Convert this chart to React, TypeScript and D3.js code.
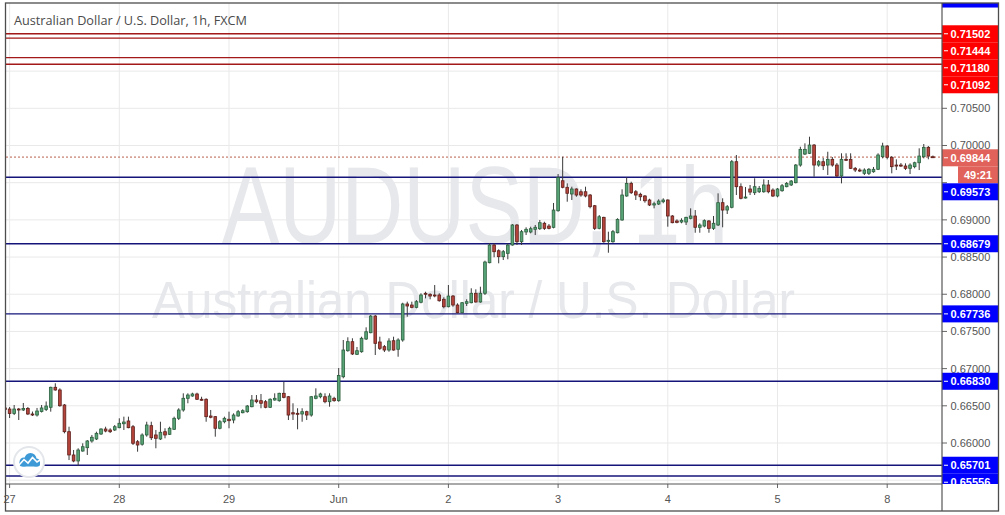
import React from "react";
import * as d3 from "d3";

type Candle = [number, number, number, number]; // open, high, low, close

const may26Tail: Candle[] = [[0.66471, 0.66497, 0.6643, 0.6645]];

const may27: Candle[] = [
  [0.66457, 0.66484, 0.66336, 0.66397], [0.66397, 0.66511, 0.66376, 0.66457],
  [0.66457, 0.66471, 0.66309, 0.6645], [0.66444, 0.66538, 0.6643, 0.66464],
  [0.66464, 0.66484, 0.66376, 0.6639], [0.6639, 0.66423, 0.66363, 0.66386],
  [0.66376, 0.66471, 0.66356, 0.6643], [0.66423, 0.66511, 0.6641, 0.66471],
  [0.6645, 0.66558, 0.6643, 0.66497], [0.6648, 0.66757, 0.66421, 0.66749],
  [0.66749, 0.66803, 0.66703, 0.66713], [0.66713, 0.66735, 0.66488, 0.66501],
  [0.66511, 0.66524, 0.6613, 0.66152], [0.66152, 0.66219, 0.65771, 0.65839],
  [0.65839, 0.65906, 0.65741, 0.65758], [0.65758, 0.65929, 0.6569, 0.65906],
  [0.65892, 0.65996, 0.65883, 0.6595], [0.65937, 0.6604, 0.65839, 0.66027],
  [0.66027, 0.66108, 0.66004, 0.66077], [0.66054, 0.66152, 0.6604, 0.6613],
  [0.66121, 0.66198, 0.66108, 0.66188], [0.66188, 0.66219, 0.66144, 0.66161],
  [0.66175, 0.66198, 0.66134, 0.66152], [0.66175, 0.66242, 0.66161, 0.66219],
];

const may28: Candle[] = [
  [0.66206, 0.66332, 0.66198, 0.66265], [0.66259, 0.66354, 0.66175, 0.66282],
  [0.66296, 0.66354, 0.66198, 0.66206], [0.66219, 0.66242, 0.65973, 0.65996],
  [0.66017, 0.6604, 0.65883, 0.65973], [0.65983, 0.6613, 0.65964, 0.66108],
  [0.66108, 0.66286, 0.66085, 0.66242], [0.66233, 0.66286, 0.6604, 0.66071],
  [0.66108, 0.66175, 0.65929, 0.66063], [0.66054, 0.66286, 0.6604, 0.66144],
  [0.66152, 0.66198, 0.66063, 0.66108], [0.66117, 0.66219, 0.66108, 0.66198],
  [0.66184, 0.66354, 0.66175, 0.66332], [0.66332, 0.66467, 0.66309, 0.66444],
  [0.66444, 0.66668, 0.66421, 0.66601], [0.66601, 0.66668, 0.66534, 0.66645],
  [0.66632, 0.66676, 0.66622, 0.66659], [0.66659, 0.66676, 0.66578, 0.66588],
  [0.66588, 0.66622, 0.66569, 0.66585], [0.66588, 0.66601, 0.66286, 0.66354],
  [0.66363, 0.66444, 0.66332, 0.66346], [0.66354, 0.66363, 0.66085, 0.66198],
  [0.66198, 0.66309, 0.66184, 0.66286], [0.66286, 0.66354, 0.66265, 0.66332],
];

const may29: Candle[] = [
  [0.66319, 0.66421, 0.66198, 0.663], [0.66309, 0.66399, 0.66265, 0.66376],
  [0.66363, 0.66444, 0.66354, 0.66421], [0.66407, 0.66453, 0.66399, 0.66434],
  [0.66421, 0.66511, 0.66407, 0.66497], [0.66488, 0.66645, 0.6648, 0.66578],
  [0.66578, 0.66645, 0.66534, 0.66555], [0.66569, 0.66659, 0.66467, 0.66534],
  [0.66555, 0.66578, 0.66467, 0.6648], [0.6648, 0.66601, 0.66471, 0.66588],
  [0.66578, 0.66668, 0.66569, 0.66601], [0.66569, 0.66676, 0.66555, 0.66668],
  [0.66668, 0.66824, 0.66601, 0.66614], [0.66622, 0.66632, 0.66309, 0.66376],
  [0.66407, 0.66534, 0.66309, 0.6639], [0.66399, 0.66467, 0.66184, 0.66397],
  [0.6639, 0.66467, 0.66286, 0.66421], [0.66421, 0.66434, 0.66309, 0.66376],
  [0.66376, 0.66632, 0.66354, 0.66622], [0.66601, 0.66735, 0.66588, 0.66632],
  [0.66622, 0.66676, 0.66601, 0.66659], [0.66622, 0.66668, 0.66534, 0.66555],
  [0.66555, 0.66668, 0.66488, 0.66632], [0.66601, 0.66622, 0.66555, 0.66569],
];

const jun1: Candle[] = [
  [0.66569, 0.67008, 0.66555, 0.66907], [0.66891, 0.67385, 0.6687, 0.6725],
  [0.67241, 0.67421, 0.67227, 0.67362], [0.67362, 0.67408, 0.67183, 0.67197],
  [0.67192, 0.67291, 0.67183, 0.67241], [0.67227, 0.67429, 0.67214, 0.67408],
  [0.67398, 0.67555, 0.67385, 0.67496], [0.67483, 0.67721, 0.67475, 0.67707],
  [0.67707, 0.67721, 0.67183, 0.6734], [0.67358, 0.67429, 0.6725, 0.67273],
  [0.67295, 0.67318, 0.67223, 0.6725], [0.6725, 0.67408, 0.67227, 0.67371],
  [0.67375, 0.67429, 0.67241, 0.6725], [0.6726, 0.67408, 0.6716, 0.67385],
  [0.67385, 0.67886, 0.67362, 0.67869], [0.67869, 0.679, 0.67698, 0.67842],
  [0.67855, 0.679, 0.67811, 0.67824], [0.67824, 0.67922, 0.67811, 0.679],
  [0.67892, 0.68013, 0.67878, 0.6799], [0.68013, 0.68034, 0.67945, 0.68007],
  [0.67999, 0.68013, 0.67932, 0.67976], [0.6799, 0.68124, 0.67959, 0.67986],
  [0.6799, 0.68013, 0.679, 0.67913], [0.67932, 0.67959, 0.67811, 0.67832],
];

const jun2: Candle[] = [
  [0.67832, 0.68124, 0.67824, 0.67976], [0.67976, 0.6799, 0.67832, 0.67855],
  [0.67855, 0.67878, 0.67744, 0.67752], [0.67752, 0.67896, 0.67744, 0.67886],
  [0.67878, 0.67932, 0.67842, 0.679], [0.67886, 0.6808, 0.67878, 0.68013],
  [0.68013, 0.68066, 0.67886, 0.67896], [0.67896, 0.68101, 0.67886, 0.68013],
  [0.68013, 0.68451, 0.6799, 0.68433], [0.68424, 0.68685, 0.68416, 0.68662],
  [0.68662, 0.68685, 0.68497, 0.68572], [0.68585, 0.68604, 0.68416, 0.68505],
  [0.68505, 0.68595, 0.6846, 0.68572], [0.6855, 0.68682, 0.6847, 0.68662],
  [0.68662, 0.68944, 0.68653, 0.68931], [0.68931, 0.68944, 0.68662, 0.68706],
  [0.68706, 0.68864, 0.68662, 0.68841], [0.68837, 0.689, 0.68796, 0.68873],
  [0.68837, 0.68908, 0.68819, 0.68881], [0.68873, 0.68931, 0.68796, 0.689],
  [0.68881, 0.68998, 0.68864, 0.68962], [0.68954, 0.68975, 0.68864, 0.68886],
  [0.68917, 0.68944, 0.68873, 0.68886], [0.689, 0.69227, 0.68886, 0.69132],
];

const jun3: Candle[] = [
  [0.69123, 0.69616, 0.6911, 0.69569], [0.69526, 0.69849, 0.69424, 0.69438],
  [0.69438, 0.69491, 0.69244, 0.69357], [0.69348, 0.69446, 0.69267, 0.69415],
  [0.69415, 0.69424, 0.69311, 0.69334], [0.69378, 0.69411, 0.69311, 0.69334],
  [0.69378, 0.69446, 0.69303, 0.69321], [0.69334, 0.69348, 0.69155, 0.69177],
  [0.6919, 0.692, 0.68864, 0.68886], [0.68886, 0.69065, 0.68873, 0.69042],
  [0.69034, 0.69042, 0.68693, 0.68706], [0.6872, 0.68841, 0.68558, 0.68725],
  [0.68706, 0.68864, 0.68693, 0.68841], [0.68827, 0.69021, 0.68819, 0.69007],
  [0.68998, 0.69411, 0.68989, 0.69334], [0.69321, 0.69572, 0.69311, 0.69491],
  [0.69491, 0.69513, 0.69348, 0.69365], [0.69378, 0.69401, 0.69267, 0.69334],
  [0.69344, 0.69365, 0.69257, 0.69311], [0.69321, 0.69334, 0.69231, 0.69257],
  [0.69267, 0.69284, 0.69186, 0.692], [0.692, 0.69244, 0.69155, 0.69217],
  [0.69213, 0.69276, 0.692, 0.69253], [0.69244, 0.6929, 0.69223, 0.69267],
];

const jun4: Candle[] = [
  [0.69267, 0.69276, 0.68908, 0.69052], [0.69052, 0.69065, 0.68954, 0.68962],
  [0.68985, 0.69007, 0.68954, 0.68967], [0.68971, 0.69021, 0.68954, 0.68994],
  [0.68971, 0.69042, 0.68931, 0.69034], [0.69021, 0.69155, 0.69007, 0.69052],
  [0.69052, 0.69132, 0.68827, 0.689], [0.689, 0.68954, 0.68827, 0.68931],
  [0.68917, 0.69007, 0.689, 0.68989], [0.68985, 0.68998, 0.68827, 0.68886],
  [0.68886, 0.69052, 0.68864, 0.68954], [0.68931, 0.69357, 0.68917, 0.69231],
  [0.69231, 0.6929, 0.689, 0.69132], [0.69132, 0.692, 0.69079, 0.69177],
  [0.69169, 0.69805, 0.69155, 0.69782], [0.69782, 0.69872, 0.69334, 0.69446],
  [0.69446, 0.69491, 0.69276, 0.6929], [0.69301, 0.69442, 0.69287, 0.69307],
  [0.69415, 0.69469, 0.69334, 0.69374], [0.69365, 0.69559, 0.69334, 0.69446],
  [0.69378, 0.69455, 0.69361, 0.69424], [0.69378, 0.69545, 0.69365, 0.69469],
  [0.69469, 0.69536, 0.69357, 0.69378], [0.69401, 0.69424, 0.69307, 0.69321],
];

const jun5: Candle[] = [
  [0.69321, 0.69428, 0.69303, 0.69415], [0.69392, 0.69482, 0.69378, 0.69459],
  [0.69446, 0.69509, 0.69438, 0.69491], [0.69469, 0.69536, 0.69455, 0.69522],
  [0.695, 0.69751, 0.69491, 0.69737], [0.69737, 0.69983, 0.69715, 0.69948],
  [0.69885, 0.70029, 0.69872, 0.69948], [0.69895, 0.70118, 0.69885, 0.70006],
  [0.70006, 0.7002, 0.6958, 0.69737], [0.69737, 0.69805, 0.69715, 0.69782],
  [0.69782, 0.69832, 0.6967, 0.69728], [0.69737, 0.69916, 0.69603, 0.69814],
  [0.69814, 0.69845, 0.69715, 0.69737], [0.69737, 0.69764, 0.69576, 0.6959],
  [0.6959, 0.69895, 0.69491, 0.69814], [0.69814, 0.69895, 0.69791, 0.69809],
  [0.69814, 0.69895, 0.69684, 0.69693], [0.69693, 0.69711, 0.69643, 0.6967],
  [0.6967, 0.69693, 0.69643, 0.69667], [0.69626, 0.69693, 0.69603, 0.6967],
  [0.69626, 0.69697, 0.69603, 0.6968], [0.69647, 0.69711, 0.69634, 0.6968],
  [0.6968, 0.69895, 0.6967, 0.69872], [0.69849, 0.70037, 0.69827, 0.69993],
];

const jun8: Candle[] = [
  [0.69993, 0.70006, 0.69814, 0.69841], [0.69841, 0.69858, 0.69626, 0.69715],
  [0.69737, 0.69814, 0.6967, 0.69733], [0.69737, 0.69764, 0.69711, 0.69728],
  [0.69724, 0.6976, 0.6967, 0.69693], [0.69693, 0.6976, 0.69616, 0.69737],
  [0.69715, 0.69782, 0.69693, 0.69768], [0.69768, 0.69962, 0.6967, 0.69858],
  [0.69849, 0.7002, 0.69827, 0.69975], [0.69975, 0.69993, 0.69814, 0.69858],
  [0.69849, 0.69865, 0.69832, 0.69844],
];

const tradingDays = [may27, may28, may29, jun1, jun2, jun3, jun4, jun5, jun8];
const dayLabels = ["27", "28", "29", "Jun", "2", "3", "4", "5", "8"];
const resistanceLevels = [0.71502, 0.71444, 0.7118, 0.71092];
const supportLevels = [0.69573, 0.68679, 0.67736, 0.6683, 0.65701, 0.65556];
const offscreenLevel = 0.71969;
const lastPrice = 0.69844;
const countdown = "49:21";
const priceTicks = d3.range(0, 13).map((k) => 0.655 + k * 0.005);
const title = "Australian Dollar / U.S. Dollar, 1h, FXCM";
const watermarkSymbol = "AUDUSD, 1h";
const watermarkName = "Australian Dollar / U.S. Dollar";

const W = 1005;
const H = 515;
const L = 6;
const R = 942;
const T = 3;
const B = 484;
const AX = 998;
const BARS_PER_DAY = 24;

const x = d3.scaleLinear().domain([0, BARS_PER_DAY * 8]).range([9.6, 887.2]);
const y = d3.scaleLinear().domain([0.66, 0.705]).range([443, 108.3]);
const fmt = d3.format(".5f");

const UP_FILL = "#58a477";
const UP_STROKE = "#2b5e3d";
const DN_FILL = "#b5443c";
const DN_STROKE = "#5e1f1a";
const WICK = "#3a3a3a";
const RED = "#ff0000";
const BLUE = "#0000ff";
const LAST = "#e0625a";
const LABEL_H = 17;

function stack(levels: number[], startAfter: number | null) {
  const sorted = [...levels].sort((a, b) => b - a);
  let prev = startAfter;
  return sorted.map((p) => {
    let c = y(p);
    if (prev !== null && c < prev + LABEL_H) c = prev + LABEL_H;
    prev = c;
    return { p, c };
  });
}

export default function App() {
  const candles: { i: number; d: Candle }[] = [];
  may26Tail.forEach((d, k) => candles.push({ i: k - may26Tail.length, d }));
  tradingDays.forEach((day, di) =>
    day.forEach((d, k) => candles.push({ i: di * BARS_PER_DAY + k, d }))
  );

  const redLabels = stack(resistanceLevels, null);
  const lastC = y(lastPrice) + 0.7;
  const cdC = lastC + LABEL_H;
  const blueLabels = stack(supportLevels, cdC);
  const bodyW = 2.7;

  // tick labels hidden behind a coloured level label are not drawn
  const boxCenters = [
    y(offscreenLevel), lastC, cdC,
    ...redLabels.map((d) => d.c), ...blueLabels.map((d) => d.c),
  ];
  const visibleTicks = priceTicks.filter(
    (p) => boxCenters.every((c) => Math.abs(y(p) - c) > LABEL_H / 2 + 3)
  );

  return (
    <div style={{ position: "fixed", left: 0, top: 0 }}>
      <svg width={W} height={H} style={{ display: "block", background: "#fff" }}>
        <defs>
          <clipPath id="plot">
            <rect x={L} y={T} width={R - L} height={B - T} />
          </clipPath>
          <clipPath id="axis">
            <rect x={R} y={T} width={AX - R} height={B - T} />
          </clipPath>
        </defs>
        <rect x={0} y={0} width={W} height={H} fill="#fff" />

        <g clipPath="url(#plot)">
          {priceTicks.map((p) => (
            <line key={p} x1={L} x2={R} y1={y(p)} y2={y(p)} stroke="#e9e9e9" strokeWidth={1} />
          ))}
          {dayLabels.map((lab, di) => (
            <line key={lab} x1={x(di * BARS_PER_DAY)} x2={x(di * BARS_PER_DAY)} y1={T} y2={B} stroke="#e9e9e9" strokeWidth={1} />
          ))}
          <text x={222} y={243} fontFamily="Liberation Sans, Arial, sans-serif" fontSize={110}
            fill="#e7e8ec" textLength={506} lengthAdjust="spacingAndGlyphs">{watermarkSymbol}</text>
          <text x={152} y={318} fontFamily="Liberation Sans, Arial, sans-serif" fontSize={52}
            fill="#e7e8ec" textLength={643} lengthAdjust="spacingAndGlyphs">{watermarkName}</text>

          {resistanceLevels.map((p) => (
            <line key={p} x1={L} x2={R} y1={y(p)} y2={y(p)} stroke="#a31818" strokeWidth={1.3} />
          ))}
          {supportLevels.map((p) => (
            <line key={p} x1={L} x2={R} y1={y(p)} y2={y(p)} stroke="#14147a" strokeWidth={1.3} />
          ))}
          <line x1={L} x2={R} y1={y(lastPrice)} y2={y(lastPrice)} stroke="#b8604f" strokeWidth={1} strokeDasharray="2,2" />

          {candles.map(({ i, d }) => {
            const [o, h, l, c] = d;
            const up = c >= o;
            const cx = x(i);
            const top = y(Math.max(o, c));
            const bh = Math.max(1, y(Math.min(o, c)) - top);
            return (
              <g key={i}>
                <line x1={cx} x2={cx} y1={y(h)} y2={y(l)} stroke={WICK} strokeWidth={1} />
                <rect x={cx - bodyW / 2} y={top} width={bodyW} height={bh}
                  fill={up ? UP_FILL : DN_FILL} stroke={up ? UP_STROKE : DN_STROKE} strokeWidth={0.8} />
              </g>
            );
          })}

          <g>
            <circle cx={29} cy={462} r={15} fill="#fff" stroke="#e3e6ea" strokeWidth={2} />
            <g fill="#3d9ad6">
              <circle cx={24} cy={462} r={4.5} />
              <circle cx={30.5} cy={459} r={6} />
              <circle cx={36} cy={462.5} r={4} />
              <rect x={19.5} y={461} width={20.5} height={5.5} rx={2.5} />
            </g>
            <polyline points="19,465 24,459.5 28,463 32.5,457.5 37,462 40,460" fill="none" stroke="#fff" strokeWidth={1.6} />
          </g>
        </g>

        <text x={14} y={25} fontFamily="Open Sans, sans-serif" fontSize={12.7} fill="#4b4b4b">{title}</text>

        <g clipPath="url(#axis)" fontFamily="Liberation Sans, Arial, sans-serif" fontSize={11}>
          {priceTicks.map((p) => (
            <line key={p} x1={R} x2={R + 5} y1={y(p)} y2={y(p)} stroke="#666" strokeWidth={1} />
          ))}
          {visibleTicks.map((p) => (
            <text key={p} x={950.5} y={y(p) + 4} fill="#555">{fmt(p)}</text>
          ))}
          <rect x={R} y={y(offscreenLevel) - LABEL_H / 2} width={AX - R} height={LABEL_H} fill={BLUE} />
          {redLabels.map(({ p, c }) => (
            <g key={p}>
              <rect x={R} y={c - LABEL_H / 2} width={AX - R} height={LABEL_H} fill={RED} />
              <line x1={R + 2} x2={R + 6} y1={c} y2={c} stroke="#fff" strokeWidth={1} />
              <text x={950.5} y={c + 4} fill="#fff" fontWeight="bold">{fmt(p)}</text>
            </g>
          ))}
          <rect x={R} y={lastC - LABEL_H / 2} width={AX - R} height={LABEL_H} fill={LAST} />
          <line x1={R + 2} x2={R + 6} y1={lastC} y2={lastC} stroke="#fff" strokeWidth={1} />
          <text x={950.5} y={lastC + 4} fill="#fff" fontWeight="bold">{fmt(lastPrice)}</text>
          <rect x={958} y={cdC - LABEL_H / 2} width={AX - 958} height={LABEL_H} fill={LAST} />
          <text x={978} y={cdC + 4} fill="#fff" fontWeight="bold" textAnchor="middle">{countdown}</text>
          {blueLabels.map(({ p, c }) => (
            <g key={p}>
              <rect x={R} y={c - LABEL_H / 2} width={AX - R} height={LABEL_H} fill={BLUE} />
              <line x1={R + 2} x2={R + 6} y1={c} y2={c} stroke="#fff" strokeWidth={1} />
              <text x={950.5} y={c + 4} fill="#fff" fontWeight="bold">{fmt(p)}</text>
            </g>
          ))}
        </g>

        <g fontFamily="Liberation Sans, Arial, sans-serif" fontSize={11} fill="#555">
          {dayLabels.map((lab, di) => (
            <g key={lab}>
              <line x1={x(di * BARS_PER_DAY)} x2={x(di * BARS_PER_DAY)} y1={B} y2={B + 4} stroke="#666" />
              <text x={x(di * BARS_PER_DAY)} y={503} textAnchor="middle">{lab}</text>
            </g>
          ))}
        </g>

        <line x1={L} x2={R} y1={B} y2={B} stroke="#555" strokeWidth={1.2} />
        <line x1={R} x2={R} y1={T} y2={511} stroke="#555" strokeWidth={1.2} />
        <rect x={5.5} y={3} width={993} height={508} fill="none" stroke="#4d4d4d" strokeWidth={1.3} />
      </svg>
    </div>
  );
}
